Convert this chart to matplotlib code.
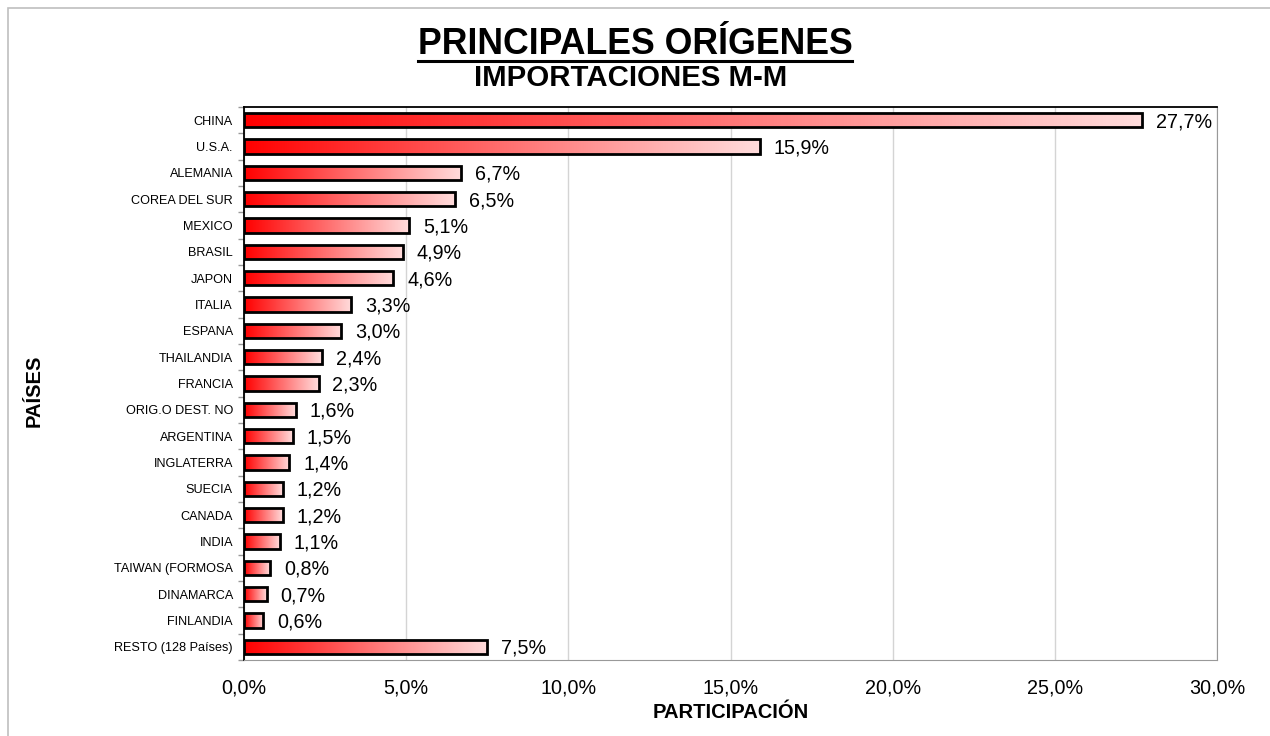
import numpy as np
import matplotlib
matplotlib.use("Agg")
import matplotlib.pyplot as plt
from matplotlib.colors import LinearSegmentedColormap
from matplotlib.patches import Rectangle
from matplotlib.lines import Line2D

plt.rcParams['font.family'] = ['Liberation Sans', 'DejaVu Sans']

# data
paises = ['CHINA', 'U.S.A.', 'ALEMANIA', 'COREA DEL SUR', 'MEXICO', 'BRASIL',
          'JAPON', 'ITALIA', 'ESPANA', 'THAILANDIA', 'FRANCIA', 'ORIG.O DEST. NO',
          'ARGENTINA', 'INGLATERRA', 'SUECIA', 'CANADA', 'INDIA',
          'TAIWAN (FORMOSA', 'DINAMARCA', 'FINLANDIA', 'RESTO (128 Países)']
participacion = [27.7, 15.9, 6.7, 6.5, 5.1, 4.9, 4.6, 3.3, 3.0, 2.4, 2.3, 1.6,
                 1.5, 1.4, 1.2, 1.2, 1.1, 0.8, 0.7, 0.6, 7.5]
xticks = [0, 5, 10, 15, 20, 25, 30]

fig = plt.figure(figsize=(12.7, 7.36), dpi=100)
ax = fig.add_axes([244 / 1270, 76 / 736, (1217 - 244) / 1270, (660 - 107) / 736])

# outer border of the chart area
fig.add_artist(Rectangle((8 / 1270, -0.01), 1.1, 1 - 8 / 736 + 0.01,
                         transform=fig.transFigure, fill=False,
                         edgecolor='#bfbfbf', linewidth=1.2))

n = len(paises)
pos = np.arange(n)
bars = ax.barh(pos, participacion, height=0.54, facecolor='none',
               edgecolor='black', linewidth=2.0, zorder=3)

# horizontal red -> pink gradient inside every bar
cmap = LinearSegmentedColormap.from_list('rojo', ['#ff0000', '#ffdcdc'])
grad = np.linspace(0, 1, 256).reshape(1, -1)
for b in bars:
    x0, y0 = b.get_x(), b.get_y()
    w, h = b.get_width(), b.get_height()
    im = ax.imshow(grad, extent=[x0, x0 + w, y0 + h, y0], aspect='auto',
                   cmap=cmap, zorder=2, interpolation='bicubic')
    im.set_clip_path(b)

for b, v in zip(bars, participacion):
    ax.annotate(f'{v:.1f}%'.replace('.', ','),
                (b.get_width(), b.get_y() + b.get_height() / 2),
                xytext=(10, -1), textcoords='offset points',
                va='center', ha='left', fontsize=14.2)

ax.set_xlim(0, 30)
ax.set_ylim(n - 0.5, -0.5)
ax.set_xticks(xticks)
ax.set_xticklabels([f'{t:.1f}%'.replace('.', ',') for t in xticks], fontsize=14.2)
ax.tick_params(axis='x', length=0, pad=13)
ax.set_yticks(pos)
ax.set_yticklabels(paises, fontsize=9.1)
ax.tick_params(axis='y', which='major', length=0, pad=8)
ax.set_yticks(np.arange(-0.5, n, 1), minor=True)
ax.tick_params(axis='y', which='minor', length=4, color='#999999', width=1)

ax.grid(axis='x', color='#d4d4d4', linewidth=1, zorder=0)
ax.set_axisbelow(True)
ax.spines['top'].set_color('black')
ax.spines['left'].set_color('black')
ax.spines['top'].set_linewidth(1.3)
ax.spines['left'].set_linewidth(1.3)
ax.spines['right'].set_color('#999999')
ax.spines['bottom'].set_color('#999999')

ax.set_xlabel('PARTICIPACIÓN', fontsize=14.5, fontweight='bold', labelpad=4)
fig.text(34 / 1270, 1 - 391 / 736, 'PAÍSES', rotation=90, fontsize=14.5,
         fontweight='bold', ha='center', va='center')

t1 = fig.text(635 / 1270, 1 - 44 / 736, 'PRINCIPALES ORÍGENES', fontsize=25.7,
              fontweight='bold', ha='center', va='center')
fig.text(631 / 1270, 1 - 78 / 736, 'IMPORTACIONES M-M', fontsize=21.2,
         fontweight='bold', ha='center', va='center')

# underline for main title
fig.canvas.draw()
bb = t1.get_window_extent().transformed(fig.transFigure.inverted())
fig.add_artist(Line2D([bb.x0, bb.x1], [1 - 61 / 736] * 2, transform=fig.transFigure,
                      color='black', linewidth=2.2))

fig.savefig('out.png', dpi=100)
